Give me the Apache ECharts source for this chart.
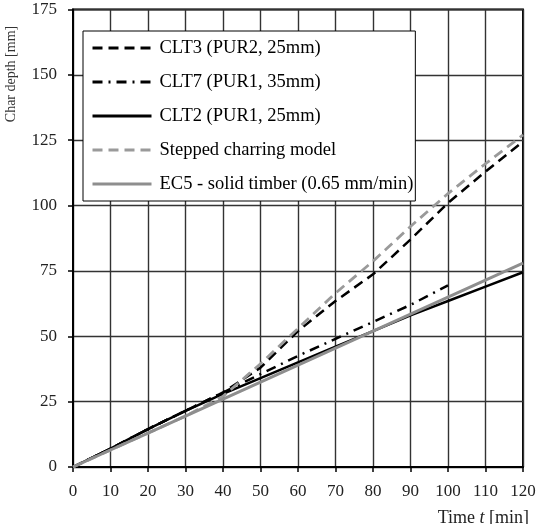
<!DOCTYPE html>
<html>
<head>
<meta charset="utf-8">
<script src="https://cdn.jsdelivr.net/npm/echarts@6/dist/echarts.min.js"></script>
<style>
  html, body { margin: 0; padding: 0; background: #fff; }
  #chart { width: 541px; height: 524px; }
</style>
</head>
<body>
<div id="chart"></div>
<script>
const times = [0, 10, 20, 30, 40, 50, 60, 70, 80, 90, 100, 110, 120]
const clt3 = [0, 7, 14.5, 21.5, 28.5, 38, 52, 63.5, 73.7, 87, 101, 113, 124.5]
const clt7 = [0, 7, 14.5, 21.5, 28.5, 35.5, 42.5, 49, 55.5, 62, 69.5]
const clt2 = [0, 7, 14.5, 21.5, 28, 34, 40, 46, 52, 58, 63.5, 69, 74.5]
const stepped = [0, 6.5, 13, 19.5, 27, 39.5, 53, 66.5, 78.7, 92, 104.6, 116, 127]
const ec5 = [0, 6.5, 13, 19.5, 26, 32.5, 39, 45.5, 52, 58.5, 65, 71.5, 78]

const seriesNames = [
  'CLT3 (PUR2, 25mm)',
  'CLT7 (PUR1, 35mm)',
  'CLT2 (PUR1, 25mm)',
  'Stepped charring model',
  'EC5 - solid timber (0.65 mm/min)'
]

const font = '"Liberation Serif", "Times New Roman", serif'

function pairs(vals) {
  return vals.map((v, i) => [times[i], v])
}

function line(name, vals, color, width, type) {
  return {
    name,
    type: 'line',
    symbol: 'none',
    silent: true,
    data: pairs(vals),
    lineStyle: { color, width, type, cap: 'butt' },
    itemStyle: { color }
  }
}

const chart = echarts.init(document.getElementById('chart'), null, { renderer: 'canvas' })

chart.setOption({
  animation: false,
  backgroundColor: '#fff',
  grid: {
    left: 73, right: 18, top: 9.5, bottom: 57,
    show: true, borderColor: '#000', borderWidth: 2
  },
  legend: {
    orient: 'vertical',
    left: 83, top: 31,
    padding: [7, 2, 7, 8],
    itemWidth: 59, itemHeight: 14, itemGap: 14,
    backgroundColor: '#fff',
    borderColor: '#000', borderWidth: 1,
    data: seriesNames,
    itemStyle: { opacity: 0 },
    lineStyle: { width: 3 },
    textStyle: { fontFamily: font, fontSize: 18.5, color: '#000', lineHeight: 20, padding: [0, 0, 0, 3] }
  },
  xAxis: {
    type: 'value',
    min: 0, max: 120, interval: 10,
    axisLine: { lineStyle: { color: '#000', width: 2 } },
    axisTick: { show: true, inside: false, length: 5, lineStyle: { color: '#000', width: 1.5 } },
    axisLabel: { color: '#222', fontFamily: font, fontSize: 17, margin: 16 },
    splitLine: { show: true, lineStyle: { color: '#333', width: 1.4 } }
  },
  yAxis: {
    type: 'value',
    min: 0, max: 175, interval: 25,
    axisLine: { show: true, lineStyle: { color: '#000', width: 2 } },
    axisTick: { show: true, inside: false, length: 5, lineStyle: { color: '#000', width: 1.5 } },
    axisLabel: { color: '#222', fontFamily: font, fontSize: 17, margin: 16 },
    splitLine: { show: true, lineStyle: { color: '#333', width: 1.4 } }
  },
  graphic: [
    {
      type: 'text',
      x: 11, y: 74,
      rotation: Math.PI / 2,
      style: {
        text: 'Char depth [mm]',
        font: '14px ' + font,
        fill: '#333',
        align: 'center',
        verticalAlign: 'middle'
      }
    },
    {
      type: 'text',
      right: 12, top: 509,
      style: {
        text: '{a|Time }{i|t}{a| [min]}',
        rich: {
          a: { fontFamily: font, fontSize: 18, fill: '#222' },
          i: { fontFamily: font, fontSize: 18, fontStyle: 'italic', fill: '#222' }
        }
      }
    }
  ],
  series: [
    line(seriesNames[0], clt3, '#000', 2.5, [10, 6]),
    line(seriesNames[1], clt7, '#000', 2.5, [10, 6, 2, 6]),
    line(seriesNames[2], clt2, '#000', 2.5, 'solid'),
    line(seriesNames[3], stepped, '#9a9a9a', 2.8, [10, 6]),
    line(seriesNames[4], ec5, '#8e8e8e', 3, 'solid')
  ]
})
</script>
</body>
</html>
